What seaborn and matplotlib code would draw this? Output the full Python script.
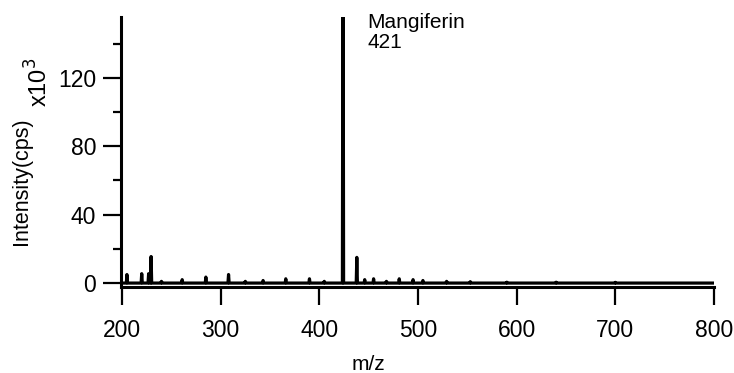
import numpy as np
import pandas as pd
import seaborn as sns
import matplotlib
matplotlib.use("Agg")
import matplotlib.pyplot as plt

# peak list (m/z, intensity x10^3)
peak_mz = [205, 220, 227, 229.5, 240, 261, 285, 308, 325, 343, 366, 390, 405,
           424, 438, 446, 455, 468, 481, 495, 505, 529, 553, 590, 640, 700]
peak_int = [5.0, 5.5, 5.5, 15.5, 1.0, 2.0, 3.5, 5.0, 1.0, 1.5, 2.5, 2.5, 1.0,
            250.0, 15.0, 2.0, 2.5, 1.0, 2.5, 2.0, 1.5, 1.0, 0.8, 0.5, 0.5, 0.4]
x_ticks = [200, 300, 400, 500, 600, 700, 800]
y_ticks = [0, 40, 80, 120]
label_text = "Mangiferin\n421"

sns.set_style("ticks")
plt.rcParams['font.family'] = ['Liberation Sans', 'DejaVu Sans']
plt.rcParams['text.color'] = 'black'
plt.rcParams['axes.labelcolor'] = 'black'

# build a stick trace
xs, ys = [199.0], [0.0]
for m, h in zip(peak_mz, peak_int):
    xs += [m - 0.6, m, m + 0.6]
    ys += [0.0, h, 0.0]
xs.append(800.0); ys.append(0.0)
df = pd.DataFrame({"mz": xs, "intensity": ys})

fig = plt.figure(figsize=(7.34, 3.73), dpi=100)
ax = fig.add_axes([121/734, 1 - 287/373, (714 - 121)/734, (287 - 17)/373])
sns.lineplot(data=df, x="mz", y="intensity", ax=ax, sort=False, estimator=None,
             color="black", linewidth=2.3)

ax.set_xlim(199, 800)
ax.set_ylim(-2.3, 155.5)
ax.set_xticks(x_ticks)
ax.set_yticks(y_ticks)
ax.set_yticks([20, 60, 100, 140], minor=True)
ax.tick_params(axis='x', direction='out', length=13, width=1.6, labelsize=16.5, pad=10, colors='black')
ax.tick_params(axis='y', which='major', direction='out', length=13, width=1.6, labelsize=16.5, pad=5, colors='black')
ax.tick_params(axis='y', which='minor', direction='out', length=6, width=1.6, colors='black')
for s in ['top', 'right']:
    ax.spines[s].set_visible(False)
for s in ['left', 'bottom']:
    ax.spines[s].set_linewidth(2.2)
    ax.spines[s].set_color('black')
ax.set_xlabel("")
ax.set_ylabel("")

fig.text(368/734, 1 - 365/373, "m/z", ha='center', va='center', fontsize=15, color='black')
fig.text(22/734, 1 - 181/373, "Intensity(cps)", ha='center', va='center', rotation=90, fontsize=15.5, color='black')
fig.text(39/734, 1 - 82/373, r"x10$^{3}$", ha='center', va='center', rotation=90, fontsize=17, color='black')
fig.text(367/734, 1 - 13/373, label_text, ha='left', va='top', fontsize=15, linespacing=1.05, color='black')

fig.savefig("out.png", dpi=100)
